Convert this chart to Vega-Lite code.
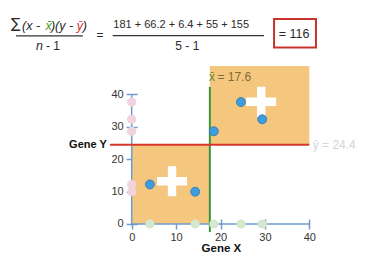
{
  "$schema": "https://vega.github.io/schema/vega-lite/v6.json",
  "width": 378,
  "height": 257,
  "padding": 0,
  "autosize": {"type": "none"},
  "background": "white",
  "config": {
    "view": {"stroke": null},
    "font": "Liberation Sans",
    "axis": {
      "grid": false,
      "domain": false,
      "tickColor": "#6d9ccf",
      "tickWidth": 1.5,
      "labelFont": "Liberation Sans",
      "labelFontSize": 11,
      "labelColor": "#333333",
      "zindex": 1
    }
  },
  "encoding": {
    "x": {
      "field": "x",
      "type": "quantitative",
      "title": null,
      "scale": {"domain": [-29.66, 55.47], "nice": false, "zero": false},
      "axis": {"orient": "bottom", "offset": -38, "tickSize": 10, "values": [0, 10, 20, 30, 40], "labelPadding": 2}
    },
    "y": {
      "field": "y",
      "type": "quantitative",
      "title": null,
      "scale": {"domain": [-10.18, 69.08], "nice": false, "zero": false},
      "axis": {"orient": "left", "offset": -137.2, "tickSize": 11, "values": [0, 10, 20, 30, 40], "labelPadding": 3}
    }
  },
  "layer": [
    {
      "data": {"values": [
        {"x": 0, "x2": 17.6, "y": 0, "y2": 24.4},
        {"x": 17.6, "x2": 40, "y": 24.4, "y2": 48.7}
      ]},
      "mark": {"type": "rect", "color": "#f5c67d"},
      "encoding": {"x2": {"field": "x2"}, "y2": {"field": "y2"}}
    },
    {
      "data": {"values": [
        {"x": 0, "x2": 40, "y": 0, "y2": 0},
        {"x": 0, "x2": 0, "y": 0, "y2": 40}
      ]},
      "mark": {"type": "rule", "color": "#6d9ccf", "strokeWidth": 1.5},
      "encoding": {"x2": {"field": "x2"}, "y2": {"field": "y2"}}
    },
    {
      "data": {"values": [{"x": 17.6, "x2": 17.6, "y": -2.5, "y2": 42.3}]},
      "mark": {"type": "rule", "color": "#3a9440", "strokeWidth": 2},
      "encoding": {"x2": {"field": "x2"}, "y2": {"field": "y2"}}
    },
    {
      "data": {"values": [{"x": -4.9, "x2": 40, "y": 24.4, "y2": 24.4}]},
      "mark": {"type": "rule", "color": "#d9362b", "strokeWidth": 2},
      "encoding": {"x2": {"field": "x2"}, "y2": {"field": "y2"}}
    },
    {
      "data": {"values": [
        {"x": 0, "y": 12.2}, {"x": 0, "y": 9.95}, {"x": 0, "y": 28.6}, {"x": 0, "y": 37.6}, {"x": 0, "y": 32.3}
      ]},
      "mark": {"type": "circle", "color": "#f0d3df", "size": 85, "opacity": 1}
    },
    {
      "data": {"values": [
        {"x": 4.1, "y": 0}, {"x": 14.3, "y": 0}, {"x": 18.5, "y": 0}, {"x": 24.6, "y": 0}, {"x": 29.4, "y": 0}
      ]},
      "mark": {"type": "circle", "color": "#d6e7cd", "size": 85, "opacity": 1}
    },
    {
      "data": {"values": [{"x": 9.08, "y": 13.17}, {"x": 29.17, "y": 37.72}]},
      "mark": {
        "type": "point",
        "shape": "M-0.28,-1H0.28V-0.28H1V0.28H0.28V1H-0.28V0.28H-1V-0.28H-0.28Z",
        "filled": true,
        "color": "white",
        "size": 900,
        "opacity": 1,
        "strokeWidth": 0
      }
    },
    {
      "data": {"values": [
        {"x": 4.1, "y": 12.2}, {"x": 14.3, "y": 9.95}, {"x": 18.5, "y": 28.6}, {"x": 24.6, "y": 37.6}, {"x": 29.4, "y": 32.3}
      ]},
      "mark": {"type": "circle", "color": "#3d9de0", "stroke": "#2b74b5", "strokeWidth": 0.8, "size": 80, "opacity": 1}
    },
    {
      "data": {"values": [{"x": 32.06, "x2": 41.5, "y": 54.4, "y2": 63.2}]},
      "mark": {"type": "rect", "fill": "white", "stroke": "#c8342c", "strokeWidth": 2},
      "encoding": {"x2": {"field": "x2"}, "y2": {"field": "y2"}}
    },
    {
      "data": {"values": [
        {"x": -26.06, "x2": -11.0, "y": 58.0, "y2": 58.0},
        {"x": -4.28, "x2": 29.8, "y": 58.07, "y2": 58.07}
      ]},
      "mark": {"type": "rule", "color": "#333333", "strokeWidth": 1.2},
      "encoding": {"x2": {"field": "x2"}, "y2": {"field": "y2"}}
    },
    {
      "data": {"values": [{"x": -27.2, "y": 61.6, "t": "∑"}]},
      "mark": {"type": "text", "align": "left", "baseline": "middle", "font": "DejaVu Sans", "fontSize": 14, "color": "#2a2a2a"},
      "encoding": {"text": {"field": "t"}}
    },
    {
      "data": {"values": [
        {"x": -24.7, "y": 61.16, "t": "(x -"},
        {"x": -18.2, "y": 61.16, "t": ")(y -"},
        {"x": -11.0, "y": 61.16, "t": ")"},
        {"x": -21.56, "y": 55.0, "t": "n"}
      ]},
      "mark": {"type": "text", "align": "left", "baseline": "middle", "fontSize": 12.5, "fontStyle": "italic", "color": "#2a2a2a"},
      "encoding": {"text": {"field": "t"}}
    },
    {
      "data": {"values": [{"x": -19.4, "y": 61.16, "t": "x̄"}]},
      "mark": {"type": "text", "align": "left", "baseline": "middle", "fontSize": 12.5, "fontStyle": "italic", "color": "#4f9a3a"},
      "encoding": {"text": {"field": "t"}}
    },
    {
      "data": {"values": [{"x": -12.35, "y": 61.16, "t": "ȳ"}]},
      "mark": {"type": "text", "align": "left", "baseline": "middle", "fontSize": 12.5, "fontStyle": "italic", "color": "#c8342c"},
      "encoding": {"text": {"field": "t"}}
    },
    {
      "data": {"values": [{"x": -19.3, "y": 55.0, "t": "- 1"}]},
      "mark": {"type": "text", "align": "left", "baseline": "middle", "fontSize": 12, "color": "#2a2a2a"},
      "encoding": {"text": {"field": "t"}}
    },
    {
      "data": {"values": [{"x": -4.14, "y": 61.4, "t": "181 + 66.2 + 6.4 + 55 + 155"}]},
      "mark": {"type": "text", "align": "left", "baseline": "middle", "fontSize": 11, "color": "#2a2a2a"},
      "encoding": {"text": {"field": "t"}}
    },
    {
      "data": {"values": [
        {"x": -7.14, "y": 58.3, "t": "="},
        {"x": 12.52, "y": 55.0, "t": "5 - 1"}
      ]},
      "mark": {"type": "text", "align": "center", "baseline": "middle", "fontSize": 12, "color": "#2a2a2a"},
      "encoding": {"text": {"field": "t"}}
    },
    {
      "data": {"values": [{"x": 36.55, "y": 58.6, "t": "= 116"}]},
      "mark": {"type": "text", "align": "center", "baseline": "middle", "fontSize": 12.5, "color": "#2a2a2a"},
      "encoding": {"text": {"field": "t"}}
    },
    {
      "data": {"values": [{"x": -5.6, "y": 24.45, "t": "Gene Y"}]},
      "mark": {"type": "text", "align": "right", "baseline": "middle", "fontSize": 11, "fontWeight": "bold", "color": "#111111"},
      "encoding": {"text": {"field": "t"}}
    },
    {
      "data": {"values": [{"x": 20.2, "y": -7.7, "t": "Gene X"}]},
      "mark": {"type": "text", "align": "center", "baseline": "middle", "fontSize": 11.5, "fontWeight": "bold", "color": "#111111"},
      "encoding": {"text": {"field": "t"}}
    },
    {
      "data": {"values": [{"x": 17.4, "y": 45.24, "t": "x̄"}]},
      "mark": {"type": "text", "align": "left", "baseline": "middle", "fontSize": 12, "color": "#5d8a3a"},
      "encoding": {"text": {"field": "t"}}
    },
    {
      "data": {"values": [{"x": 19.3, "y": 45.24, "t": "= 17.6"}]},
      "mark": {"type": "text", "align": "left", "baseline": "middle", "fontSize": 12, "color": "#7d6b3a"},
      "encoding": {"text": {"field": "t"}}
    },
    {
      "data": {"values": [{"x": 40.77, "y": 24.4, "t": "ȳ = 24.4"}]},
      "mark": {"type": "text", "align": "left", "baseline": "middle", "fontSize": 12, "color": "#d5d5d5"},
      "encoding": {"text": {"field": "t"}}
    }
  ]
}
